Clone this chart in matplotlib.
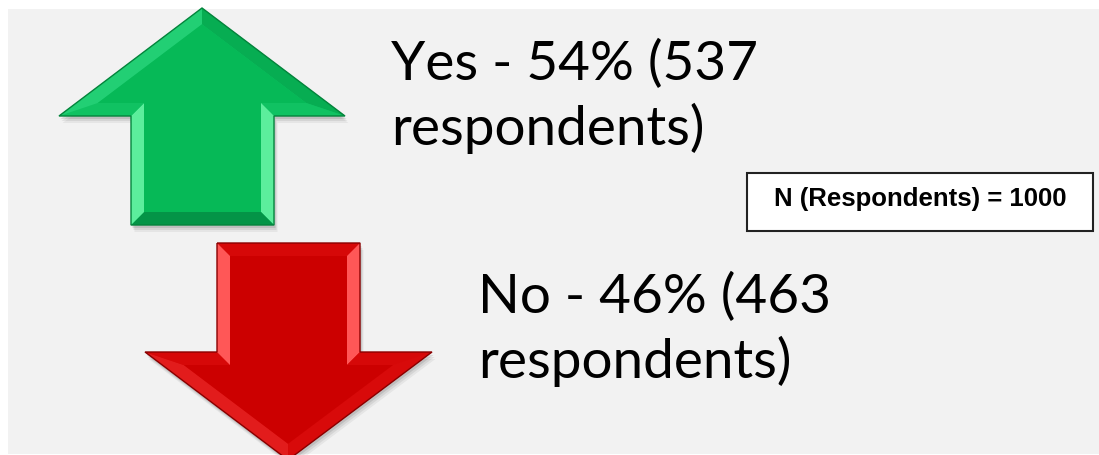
import numpy as np
import matplotlib
matplotlib.use('Agg')
import matplotlib.pyplot as plt
from matplotlib.patches import Polygon, Rectangle

answers = ['Yes', 'No']
shares = [54, 46]
counts = [537, 463]
total_respondents = 1000

W, H = 1099, 455

# arrow outlines in pixel space (y grows downward)
up_arrow = [(202, 8), (345, 116), (274, 116), (274, 225),
            (131, 225), (131, 116), (59, 116)]
down_arrow = [(217, 243), (360, 243), (360, 352), (432, 352),
              (288, 460), (145, 352), (217, 352)]

arrow_styles = {
    'Yes': dict(face='#06b957', edge='#04843c', light='#5cee9c', mid='#10c262',
                slant_l='#22cf74', slant_r='#07ad52', dark='#049447'),
    'No': dict(face='#cc0000', edge='#8a0000', light='#ff5757', mid='#d60808',
               slant_l='#e21c1c', slant_r='#d80a0a', dark='#a60000'),
}


def inset(poly, d):
    # offset every edge inward by d and intersect neighbouring edges
    pts = np.array(poly, dtype=float)
    n = len(pts)
    area = 0.0
    for i in range(n):
        x1, y1 = pts[i]
        x2, y2 = pts[(i + 1) % n]
        area += x1 * y2 - x2 * y1
    sign = 1.0 if area > 0 else -1.0
    lines = []
    for i in range(n):
        p, q = pts[i], pts[(i + 1) % n]
        t = (q - p) / np.linalg.norm(q - p)
        nrm = sign * np.array([-t[1], t[0]])
        lines.append((p + nrm * d, t))
    out = []
    for i in range(n):
        (p1, t1), (p2, t2) = lines[i - 1], lines[i]
        A = np.array([t1, -t2]).T
        s = np.linalg.solve(A, p2 - p1)
        out.append(p1 + t1 * s[0])
    return np.array(out)


def draw_arrow(ax, poly, st, bevel=13):
    pts = np.array(poly, dtype=float)
    cx = pts[:, 0].mean()
    ybot = pts[:, 1].max()
    # soft drop shadow
    for k, a in [(7, 0.05), (5, 0.07), (3, 0.10)]:
        ax.add_patch(Polygon(pts + [k * 0.5, k], closed=True, fc='#000000',
                             ec='none', alpha=a, zorder=1))
    ax.add_patch(Polygon(pts, closed=True, fc=st['mid'], ec='none', zorder=2))
    inner = inset(poly, bevel)
    n = len(pts)
    for i in range(n):
        j = (i + 1) % n
        quad = [pts[i], pts[j], inner[j], inner[i]]
        t = pts[j] - pts[i]
        t = t / np.linalg.norm(t)
        if abs(t[1]) > 0.9:
            col = st['light']
        elif abs(t[1]) < 0.1:
            col = st['dark'] if pts[i][1] == ybot else st['mid']
        else:
            midx = (pts[i][0] + pts[j][0]) / 2
            col = st['slant_l'] if midx < cx else st['slant_r']
        ax.add_patch(Polygon(quad, closed=True, fc=col, ec='none', zorder=3))
    ax.add_patch(Polygon(inner, closed=True, fc=st['face'], ec='none', zorder=4))
    ax.add_patch(Polygon(pts, closed=True, fc='none', ec=st['edge'], lw=1.0, zorder=5))


fig = plt.figure(figsize=(W / 100, H / 100), dpi=100)
fig.patch.set_facecolor('white')
ax = fig.add_axes([0, 0, 1, 1])
ax.set_xlim(0, W)
ax.set_ylim(H, 0)
ax.axis('off')

ax.add_patch(Rectangle((8, 9), W - 8, H - 10, fc='#f2f2f2', ec='none', zorder=0))

draw_arrow(ax, up_arrow, arrow_styles['Yes'])
draw_arrow(ax, down_arrow, arrow_styles['No'])

label_pos = {'Yes': (391, 80), 'No': (478, 313)}
for answer, share, count in zip(answers, shares, counts):
    x, y = label_pos[answer]
    ax.text(x, y, f'{answer} - {share}% ({count}', family='Lato', fontsize=39.5,
            color='black', ha='left', va='baseline', zorder=6)
    ax.text(x, y + 65, 'respondents)', family='Lato', fontsize=39.5,
            color='black', ha='left', va='baseline', zorder=6)

ax.add_patch(Rectangle((747, 173), 346, 58, fc='white', ec='#222222', lw=1.5, zorder=6))
ax.text(920, 199, f'N (Respondents) = {total_respondents}', family='Liberation Sans',
        fontsize=18.5, fontweight='bold', ha='center', va='center', zorder=7)

fig.savefig('out.png', dpi=100, facecolor=fig.get_facecolor())
